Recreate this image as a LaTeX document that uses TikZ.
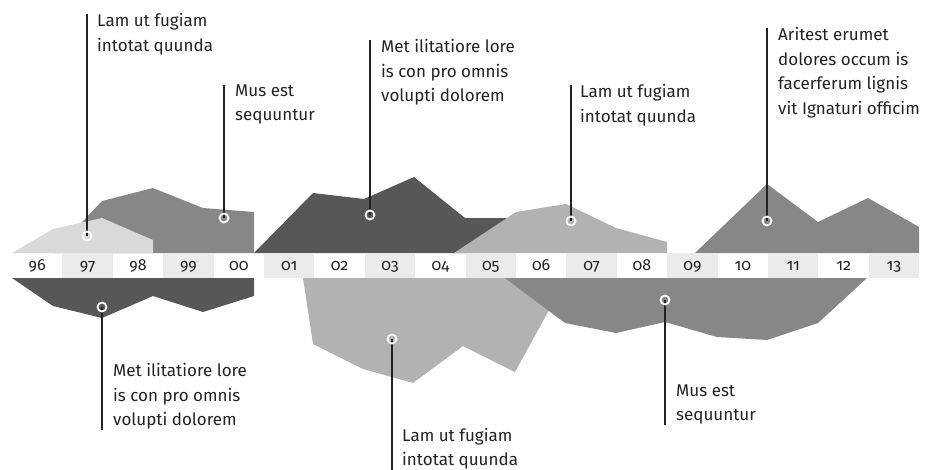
\documentclass[tikz,border=0pt]{standalone}
\usepackage{fontspec}
\setmainfont{Fira Sans}[Numbers=OldStyle]
\definecolor{palegrey}{RGB}{217,217,217}
\definecolor{midgrey}{RGB}{135,135,135}
\definecolor{darkgrey}{RGB}{87,87,87}
\definecolor{lightgrey}{RGB}{178,178,178}
\definecolor{bandgrey}{RGB}{235,235,235}
\definecolor{inkgrey}{RGB}{34,34,34}

\begin{document}
\begin{tikzpicture}[x=1pt,y=-1pt,
  note/.style={align=left,anchor=north west,inner sep=0pt,font=\fontsize{17}{24.5}\selectfont,text=inkgrey},
  leader/.style={draw=inkgrey,line width=1.2pt},
  ring/.style={circle,draw=white,line width=1.8pt,minimum size=9pt,inner sep=0pt},
  yearlab/.style={anchor=base,font=\fontsize{16}{16}\selectfont,text=inkgrey}]
\useasboundingbox (0,0) rectangle (927,469);
% upper areas
\fill[midgrey] (53,253) -- (102,201) -- (153,188) -- (203,208) -- (254,212) -- (254,253) -- cycle;
\fill[palegrey] (12,253) -- (53,229) -- (102,218) -- (153,240) -- (153,253) -- cycle;
\fill[darkgrey] (254,253) -- (313,193) -- (364,199) -- (414,177) -- (465,218) -- (516,218) -- (516,253) -- cycle;
\fill[lightgrey] (454,253) -- (516,212) -- (566,204) -- (616,228) -- (667,242) -- (667,253) -- cycle;
\fill[midgrey] (695,253) -- (767,184) -- (818,222) -- (868,198) -- (919,227) -- (919,253) -- cycle;
% lower areas
\fill[darkgrey] (12,278) -- (53,306) -- (102,318) -- (153,296) -- (203,312) -- (254,296) -- (254,278) -- cycle;
\fill[lightgrey] (303,278) -- (313,344) -- (363,369) -- (413,383) -- (463,346) -- (515,372) -- (548,312) -- (580,278) -- cycle;
\fill[midgrey] (505,278) -- (565,323) -- (616,333) -- (665,322) -- (717,337) -- (767,340) -- (818,323) -- (867,278) -- cycle;
% year band
\foreach \yr [count=\i from 0] in {96,97,98,99,00,01,02,03,04,05,06,07,08,09,10,11,12,13} {
  \ifodd\i\relax \fill[bandgrey] (12+50.4*\i,253) rectangle +(50.4,25); \fi
  \node[yearlab] (y\i) at (37.2+50.4*\i,270) {\yr};
}
% notes
\node[note] (t1) at (97,13.5) {Lam ut fugiam\\intotat quunda};
\node[note] (t2) at (235,84.5) {Mus est\\sequuntur};
\node[note] (t3) at (381,39.5) {Met ilitatiore lore\\is con pro omnis\\volupti dolorem};
\node[note] (t4) at (580,84.5) {Lam ut fugiam\\intotat quunda};
\node[note] (t5) at (778,27.5) {Aritest erumet\\dolores occum is\\facerferum lignis\\vit Ignaturi officim};
\node[note] (t6) at (113,363.5) {Met ilitatiore lore\\is con pro omnis\\volupti dolorem};
\node[note] (t7) at (402,428) {Lam ut fugiam\\intotat quunda};
\node[note] (t8) at (676,384.5) {Mus est\\sequuntur};
% leaders and rings
\foreach \n/\x/\y/\e in {1/87/236/north, 2/224/218/north, 3/370/215/north, 4/571/221/north,
    5/767/221/north, 6/102/307/south, 7/392/339/south, 8/665/300/south} {
  \coordinate (p\n) at (\x,\y);
  \draw[leader] (p\n) -- (p\n |- t\n.\e);
  \node[ring] (o\n) at (p\n) {};
}
\end{tikzpicture}
\end{document}
